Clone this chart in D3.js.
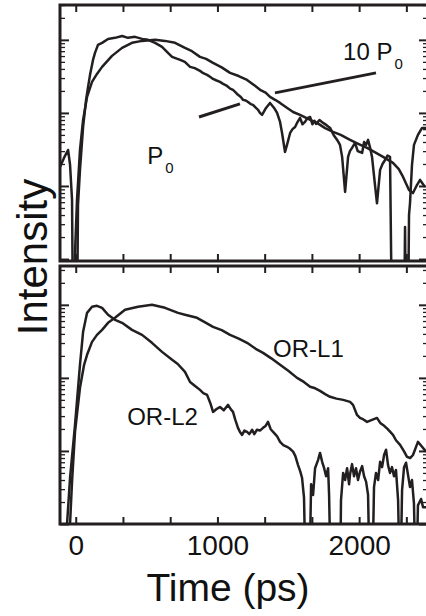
<!DOCTYPE html>
<html>
<head>
<meta charset="utf-8">
<script src="https://cdn.jsdelivr.net/npm/d3@7"></script>
<style>
body { margin: 0; background: #fff; }
svg { display: block; font-family: "Liberation Sans", Arial, sans-serif; }
</style>
</head>
<body>
<svg id="chart" width="426" height="616"></svg>
<script>
// time (ps), intensity (normalised) ; 0.0001 = signal fell below the axis
var topSmooth = [[-26,0.0001],[9,0.0064],[30,0.0311],[52,0.080],[80,0.166],[115,0.266],[150,0.342],
  [186,0.427],[256,0.604],[327,0.777],[397,0.91],[468,0.968],[560,1.0],[630,0.968],[701,0.91],
  [771,0.777],[820,0.70],[877,0.585],[920,0.55],[969,0.484],[1030,0.42],[1089,0.353],[1150,0.32],
  [1209,0.283],[1260,0.24],[1301,0.207],[1340,0.19],[1371,0.166],[1410,0.15],[1442,0.137],
  [1490,0.118],[1534,0.103],[1583,0.094],[1640,0.083],[1703,0.073],[1760,0.062],[1816,0.055],
  [1870,0.050],[1936,0.0427],[1990,0.038],[2056,0.0332],[2110,0.029],[2169,0.025],[2239,0.0207],
  [2280,0.017],[2310,0.0133],[2352,0.0088],[2380,0.0080],[2408,0.0103],[2430,0.0121],[2465,0.0097]];

var topNoisy = [[-111,0.0182],[-83,0.0242],[-54,0.0311],[-40,0.0194],[-26,0.0064],[-19,0.0001],
  [9,0.0001],[16,0.0055],[30,0.0166],[52,0.0643],[73,0.151],[87,0.227],[101,0.332],[122,0.532],
  [136,0.664],[157,0.854],[186,0.91],[228,1.03],[277,1.065],[327,1.13],[369,1.065],[418,1.10],
  [468,1.03],[510,1.0],[560,0.91],[609,0.802],[651,0.664],[680,0.585],[737,0.532],[770,0.50],
  [807,0.427],[840,0.41],[877,0.376],[900,0.35],[927,0.332],[950,0.31],[969,0.292],[990,0.28],
  [1018,0.266],[1040,0.25],[1068,0.234],[1090,0.215],[1110,0.207],[1130,0.19],[1145,0.177],
  [1165,0.165],[1181,0.151],[1200,0.148],[1216,0.141],[1235,0.132],[1251,0.129],[1270,0.118],
  [1287,0.110],[1300,0.100],[1315,0.094],[1343,0.117],[1371,0.137],[1400,0.117],[1421,0.1],
  [1442,0.0753],[1456,0.0532],[1477,0.0292],[1491,0.0365],[1513,0.0532],[1530,0.060],
  [1548,0.0643],[1565,0.075],[1583,0.0855],[1600,0.070],[1618,0.0753],[1635,0.085],[1654,0.088],
  [1670,0.070],[1685,0.078],[1696,0.0707],[1720,0.080],[1746,0.073],[1770,0.068],[1795,0.0623],
  [1820,0.050],[1845,0.0427],[1865,0.0365],[1880,0.025],[1901,0.0083],[1922,0.025],[1935,0.030],
  [1950,0.0332],[1971,0.0388],[1990,0.030],[2006,0.0292],[2021,0.0283],[2035,0.040],[2049,0.0365],
  [2063,0.0427],[2078,0.033],[2091,0.025],[2112,0.0103],[2126,0.0058],[2148,0.0166],[2165,0.020],
  [2183,0.0227],[2200,0.026],[2218,0.025],[2232,0.0001],[2317,0.0001],[2324,0.00274],[2331,0.0001],
  [2345,0.0001],[2352,0.0040],[2359,0.0058],[2373,0.0194],[2387,0.0365],[2415,0.050],
  [2444,0.0623],[2472,0.0623]];

var orL1 = [[-54,0.0001],[-40,0.00102],[-26,0.0038],[-5,0.0182],[30,0.0732],[59,0.151],[80,0.207],
  [115,0.311],[150,0.388],[186,0.454],[228,0.567],[277,0.664],[348,0.854],[440,0.939],[538,1.0],
  [630,0.91],[722,0.777],[771,0.73],[856,0.664],[910,0.58],[969,0.5],[1030,0.45],[1089,0.388],
  [1150,0.345],[1209,0.302],[1270,0.25],[1322,0.22],[1380,0.185],[1442,0.151],[1500,0.125],
  [1562,0.1],[1610,0.088],[1654,0.0755],[1690,0.072],[1724,0.0664],[1760,0.060],[1795,0.0551],
  [1840,0.052],[1887,0.05],[1936,0.0469],[1957,0.0427],[1985,0.0311],[2006,0.0283],[2030,0.027],
  [2056,0.025],[2091,0.0266],[2126,0.0283],[2150,0.024],[2169,0.0227],[2200,0.020],[2239,0.0166],
  [2260,0.014],[2289,0.0121],[2315,0.010],[2338,0.0083],[2360,0.0080],[2380,0.0088],[2415,0.0133],
  [2444,0.0114],[2472,0.0098]];

var orL2 = [[-83,0.0001],[-61,0.00102],[-40,0.0043],[-5,0.0227],[30,0.151],[52,0.427],[80,0.777],
  [115,0.939],[150,0.969],[186,0.91],[228,0.73],[277,0.623],[327,0.567],[397,0.454],[468,0.388],
  [538,0.302],[609,0.227],[680,0.177],[720,0.155],[771,0.121],[807,0.088],[840,0.078],[877,0.0685],
  [900,0.062],[927,0.0585],[950,0.045],[969,0.0342],[990,0.037],[1018,0.040],[1045,0.036],
  [1075,0.0427],[1095,0.037],[1110,0.0342],[1125,0.027],[1145,0.0207],[1160,0.018],[1174,0.0166],
  [1190,0.019],[1209,0.0182],[1225,0.017],[1245,0.0195],[1260,0.017],[1279,0.0195],[1300,0.019],
  [1322,0.0207],[1340,0.022],[1357,0.025],[1375,0.020],[1393,0.0182],[1420,0.016],[1442,0.0133],
  [1465,0.012],[1491,0.0114],[1510,0.0108],[1534,0.0098],[1550,0.0085],[1569,0.0064],
  [1585,0.0052],[1597,0.0043],[1611,0.0023],[1625,0.0001],[1647,0.0001],[1661,0.0035],
  [1675,0.0025],[1689,0.0058],[1710,0.0075],[1724,0.0094],[1739,0.0071],[1753,0.0058],
  [1767,0.0045],[1781,0.0058],[1788,0.0025],[1802,0.0001],[1865,0.0001],[1872,0.0021],
  [1887,0.0050],[1901,0.0040],[1915,0.0058],[1929,0.0035],[1936,0.0048],[1950,0.0066],
  [1964,0.0045],[1978,0.0058],[1992,0.0040],[2006,0.0052],[2021,0.0062],[2035,0.0045],
  [2049,0.0038],[2063,0.0025],[2077,0.0001],[2091,0.0001],[2105,0.0032],[2119,0.0050],
  [2134,0.0040],[2148,0.0071],[2162,0.0060],[2176,0.0088],[2190,0.0104],[2204,0.0064],
  [2218,0.0050],[2232,0.0060],[2246,0.0045],[2260,0.0055],[2275,0.0021],[2289,0.0001],
  [2303,0.0029],[2317,0.0060],[2331,0.0069],[2345,0.0047],[2359,0.0032],[2373,0.0040],
  [2387,0.0019],[2401,0.0001],[2415,0.0018],[2437,0.0022],[2451,0.0017],[2472,0.0017]];

var xTicks = [0, 333.3, 666.7, 1000, 1333.3, 1666.7, 2000, 2333.3];
var xLabels = [0, 1000, 2000];

// leader lines and labels, in data units
var topLeaders = [[[870,0.088],[1159,0.133]], [[1406,0.188],[2119,0.353]]];
var topLabels = [{t: 504, v: 0.020, text: "P", sub: "0"}, {t: 1887, v: 0.532, text: "10 P", sub: "0"}];
var botLabels = [{t: 1393, v: 0.194, text: "OR-L1"}, {t: 363, v: 0.0227, text: "OR-L2"}];

var ink = "#231f20";
var svg = d3.select("#chart");

var x = d3.scaleLinear().domain([-111, 2486]).range([60, 428]);
var yTop = d3.scaleLog().domain([0.00094, 3.0]).range([261, 5]);
var yBot = d3.scaleLog().domain([0.001, 3.4]).range([524, 266]);

function logTicks(y) {
    var d = y.domain(), minor = [], major = [];
    for (var e = -4; e <= 1; e++) {
        for (var k = 1; k <= 9; k++) {
            var v = k * Math.pow(10, e);
            if (v < d[0] * 0.999 || v > d[1]) continue;
            if (k == 1) major.push(v); else minor.push(v);
        }
    }
    return {major: major, minor: minor};
}

function styleAxis(g, w) {
    g.select(".domain").remove();
    g.selectAll(".tick line").attr("stroke", ink).attr("stroke-width", w);
}

function panel(y, curves, id, labelled) {
    var r = y.range();
    var g = svg.append("g");

    svg.append("clipPath").attr("id", id)
        .append("rect").attr("x", x.range()[0]).attr("y", r[1])
        .attr("width", x.range()[1] - x.range()[0]).attr("height", r[0] - r[1]);

    var line = d3.line().x(function(d) { return x(d[0]); }).y(function(d) { return y(d[1]); });

    g.append("g").attr("clip-path", "url(#" + id + ")")
        .selectAll("path").data(curves).enter().append("path")
        .attr("d", line)
        .attr("fill", "none")
        .attr("stroke", ink)
        .attr("stroke-width", 2.5)
        .attr("stroke-linejoin", "round");

    var lt = logTicks(y);
    [[lt.minor, 5, 1.3], [lt.major, 9, 2]].forEach(function(s) {
        g.append("g").attr("transform", "translate(" + x.range()[0] + ",0)")
            .call(d3.axisLeft(y).tickValues(s[0]).tickSize(-s[1]).tickFormat(""))
            .call(styleAxis, s[2]);
        g.append("g").attr("transform", "translate(" + x.range()[1] + ",0)")
            .call(d3.axisRight(y).tickValues(s[0]).tickSize(-s[1]).tickFormat(""))
            .call(styleAxis, s[2]);
    });

    g.append("g").attr("transform", "translate(0," + r[1] + ")")
        .call(d3.axisTop(x).tickValues(xTicks).tickSize(-7).tickFormat(""))
        .call(styleAxis, 2);

    var bottom = g.append("g").attr("transform", "translate(0," + r[0] + ")")
        .call(d3.axisBottom(x).tickValues(xTicks).tickSize(-7).tickPadding(11)
            .tickFormat(function(d) { return labelled && xLabels.indexOf(d) >= 0 ? d : ""; }))
        .call(styleAxis, 2);
    bottom.selectAll("text").attr("font-size", 28).attr("fill", "#111")
        .attr("font-family", "Liberation Sans, Arial, sans-serif");

    g.append("rect")
        .attr("x", x.range()[0]).attr("y", r[1])
        .attr("width", x.range()[1] - x.range()[0]).attr("height", r[0] - r[1])
        .attr("fill", "none").attr("stroke", ink).attr("stroke-width", 3);

    return g;
}

var gTop = panel(yTop, [topSmooth, topNoisy], "clipTop", false);
var gBot = panel(yBot, [orL1, orL2], "clipBot", true);

gTop.selectAll(".leader").data(topLeaders).enter().append("line")
    .attr("class", "leader")
    .attr("x1", function(d) { return x(d[0][0]); })
    .attr("y1", function(d) { return yTop(d[0][1]); })
    .attr("x2", function(d) { return x(d[1][0]); })
    .attr("y2", function(d) { return yTop(d[1][1]); })
    .attr("stroke", ink).attr("stroke-width", 3);

topLabels.forEach(function(l) {
    var t = gTop.append("text").attr("x", x(l.t)).attr("y", yTop(l.v))
        .attr("font-size", 24).attr("fill", "#111").text(l.text);
    t.append("tspan").attr("dx", 2).attr("dy", 9).attr("font-size", 15).text(l.sub);
});

botLabels.forEach(function(l) {
    gBot.append("text").attr("x", x(l.t)).attr("y", yBot(l.v))
        .attr("font-size", 24).attr("fill", "#111").text(l.text);
});

svg.append("text")
    .attr("transform", "translate(47,257) rotate(-90)")
    .attr("text-anchor", "middle")
    .attr("font-size", 42).attr("fill", "#111")
    .text("Intensity");

svg.append("text")
    .attr("x", 228).attr("y", 601)
    .attr("text-anchor", "middle")
    .attr("font-size", 39).attr("fill", "#111")
    .text("Time (ps)");
</script>
</body>
</html>
